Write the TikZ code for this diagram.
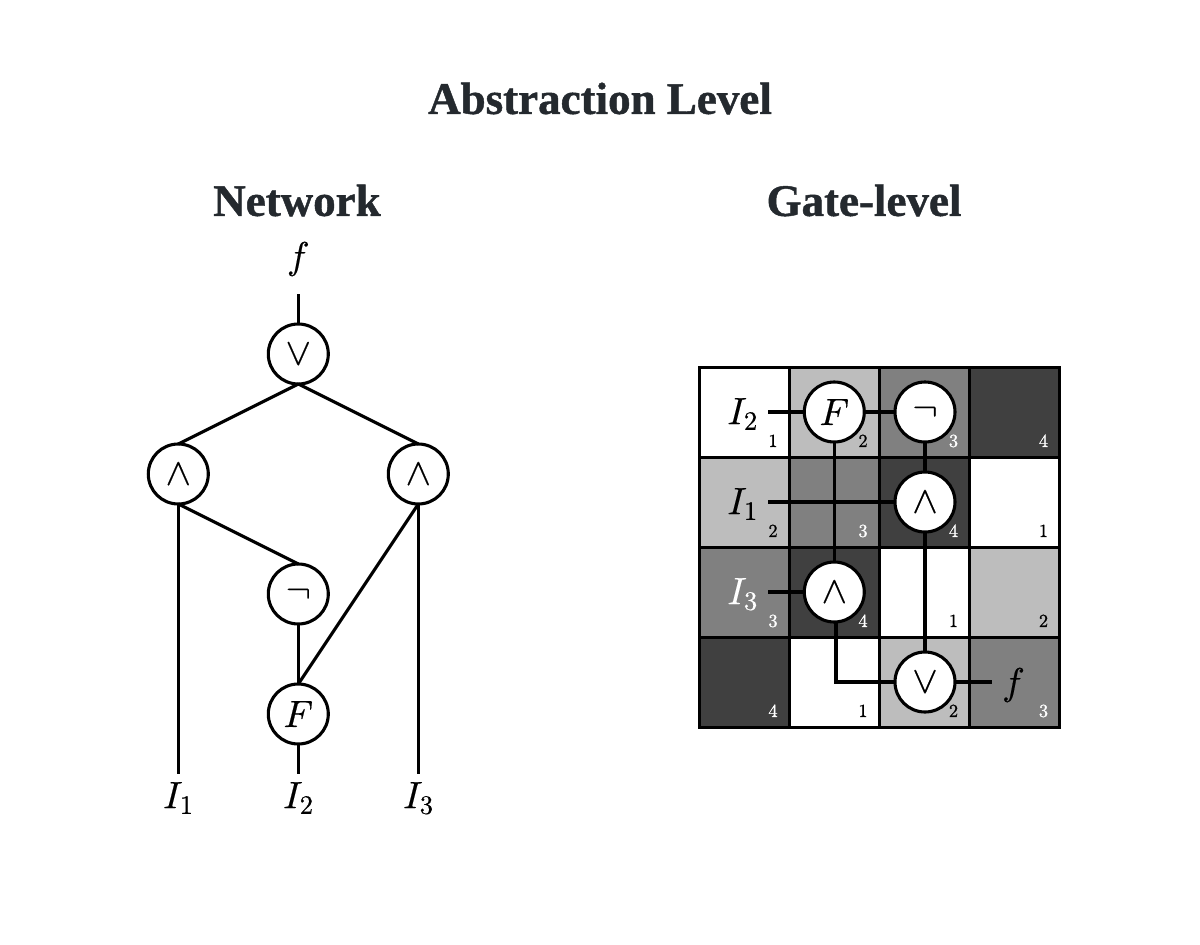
\documentclass[tikz,border=0pt]{standalone}
\usepackage{fontspec}
\setmainfont{Liberation Serif}
\DeclareFontShape{OML}{cmm}{m}{it}{<->cmmi10}{}
\DeclareFontShape{OMS}{cmsy}{m}{n}{<->cmsy10}{}
\DeclareFontShape{OT1}{cmr}{m}{n}{<->cmr10}{}
\newcommand\hv[1]{\special{pdf:code 2 Tr 0.45 w}#1\special{pdf:code 0 Tr}}
\newcommand\hm[1]{\special{pdf:code 2 Tr 0.15 w}#1\special{pdf:code 0 Tr}}
\definecolor{ink}{HTML}{24292E}
\definecolor{gA}{HTML}{FFFFFF}
\definecolor{gB}{HTML}{BDBDBD}
\definecolor{gC}{HTML}{808080}
\definecolor{gD}{HTML}{404040}
\tikzset{
  conn/.style={line width=3.1pt,line cap=butt,line join=miter,black},
  gate/.style={circle,draw=black,fill=white,line width=3.1pt,minimum size=60pt,inner sep=0pt,outer sep=0pt,font=\fontsize{38}{42}\selectfont},
  lab/.style={inner sep=0pt,font=\fontsize{38}{42}\selectfont},
  heading/.style={inner sep=0pt,text=ink,font=\fontsize{45}{50}\selectfont\bfseries},
  cell/.style={draw=black,line width=3.1pt,minimum size=90pt,inner sep=0pt,outer sep=0pt},
  num/.style={inner sep=0pt,font=\fontsize{18.5}{20}\selectfont}
}
\begin{document}
\begin{tikzpicture}[x=1pt,y=-1pt]
\useasboundingbox (0,0) rectangle (1200,945);
\fill[white] (0,0) rectangle (1200,945);
\node[heading] (title) at (600,98.5) {\hv{Abstraction Level}};
\node[heading] (hnet) at (297,200.5) {\hv{Network}};
\node[heading] (hgate) at (864,200.5) {\hv{Gate-level}};
% Network
\node[lab] (nf) at (298.3,259) {\hm{$f$}};
\coordinate (nftop) at (298.3,294);
\node[gate] (nor) at (298.3,354) {\hm{$\vee$}};
\node[gate] (nandl) at (178.3,474) {\hm{$\wedge$}};
\node[gate] (nandr) at (418.3,474) {\hm{$\wedge$}};
\node[gate] (nnot) at (298.3,594) {\hm{$\neg$}};
\node[gate] (nF) at (298.3,714) {\hm{$F$}};
\node[lab] (nI1) at (178.3,798) {\hm{$I_1$}};
\node[lab] (nI2) at (298.3,798) {\hm{$I_2$}};
\node[lab] (nI3) at (418.3,798) {\hm{$I_3$}};
\coordinate (nI1e) at (178.3,774);
\coordinate (nI2e) at (298.3,774);
\coordinate (nI3e) at (418.3,774);
\draw[conn] (nftop) -- (nor.north);
\draw[conn] (nor.south) -- (nandl.north);
\draw[conn] (nor.south) -- (nandr.north);
\draw[conn] (nandl.south) -- (nnot.north);
\draw[conn] (nandr.south) -- (nF.north);
\draw[conn] (nnot.south) -- (nF.north);
\draw[conn] (nandl.south) -- (nI1e);
\draw[conn] (nF.south) -- (nI2e);
\draw[conn] (nandr.south) -- (nI3e);
% Grid
\foreach \r/\y/\ca/\cb/\cc/\cd in {
  1/412.4/gA/gB/gC/gD,
  2/502.3/gB/gC/gD/gA,
  3/592.3/gC/gD/gA/gB,
  4/682.2/gD/gA/gB/gC}{
  \node[cell,fill=\ca] (c\r a) at (744.8,\y) {};
  \node[cell,fill=\cb] (c\r b) at (834.8,\y) {};
  \node[cell,fill=\cc] (c\r c) at (924.8,\y) {};
  \node[cell,fill=\cd] (c\r d) at (1014.8,\y) {};
}
% Numbers
\foreach \r/\y/\na/\nb/\nc/\nd/\ta/\tb/\tc/\td in {
  1/441/1/2/3/4/black/black/white/white,
  2/531/2/3/4/1/black/white/white/black,
  3/621/3/4/1/2/white/white/black/black,
  4/711/4/1/2/3/white/black/black/white}{
  \node[num,text=\ta] (n\r a) at (773,\y) {\hm{$\na$}};
  \node[num,text=\tb] (n\r b) at (863,\y) {\hm{$\nb$}};
  \node[num,text=\tc] (n\r c) at (953.5,\y) {\hm{$\nc$}};
  \node[num,text=\td] (n\r d) at (1043.5,\y) {\hm{$\nd$}};
}
% Gate-level wires and gates
\node[gate] (gF) at (834.3,412) {\hm{$F$}};
\node[gate] (gnot) at (925,412) {\hm{$\neg$}};
\node[gate] (gand) at (925,502) {\hm{$\wedge$}};
\node[gate] (gandb) at (834.3,592) {\hm{$\wedge$}};
\node[gate] (gor) at (925,682) {\hm{$\vee$}};
\node[lab] (gI2) at (742.5,414) {\hm{$I_2$}};
\node[lab] (gI1) at (742.5,504) {\hm{$I_1$}};
\node[lab,text=white] (gI3) at (742.5,594) {\hm{$I_3$}};
\node[lab] (gf) at (1013.5,685) {\hm{$f$}};
\coordinate (gI2e) at (768,412);
\coordinate (gI1e) at (768,502);
\coordinate (gI3e) at (768,592);
\coordinate (gfe) at (992,682);
\coordinate (gbend) at (836,682);
\coordinate (gstart) at (836,622);
\draw[conn] (gI2e) -- (gF.west);
\draw[conn] (gF.east) -- (gnot.west);
\draw[conn] (gF.south) -- (gandb.north);
\draw[conn] (gI1e) -- (gand.west);
\draw[conn] (gnot.south) -- (gand.north);
\draw[conn] (gand.south) -- (gor.north);
\draw[conn] (gI3e) -- (gandb.west);
\draw[conn] (gstart) -- (gbend) -- (gor.west);
\draw[conn] (gor.east) -- (gfe);
\end{tikzpicture}
\end{document}
